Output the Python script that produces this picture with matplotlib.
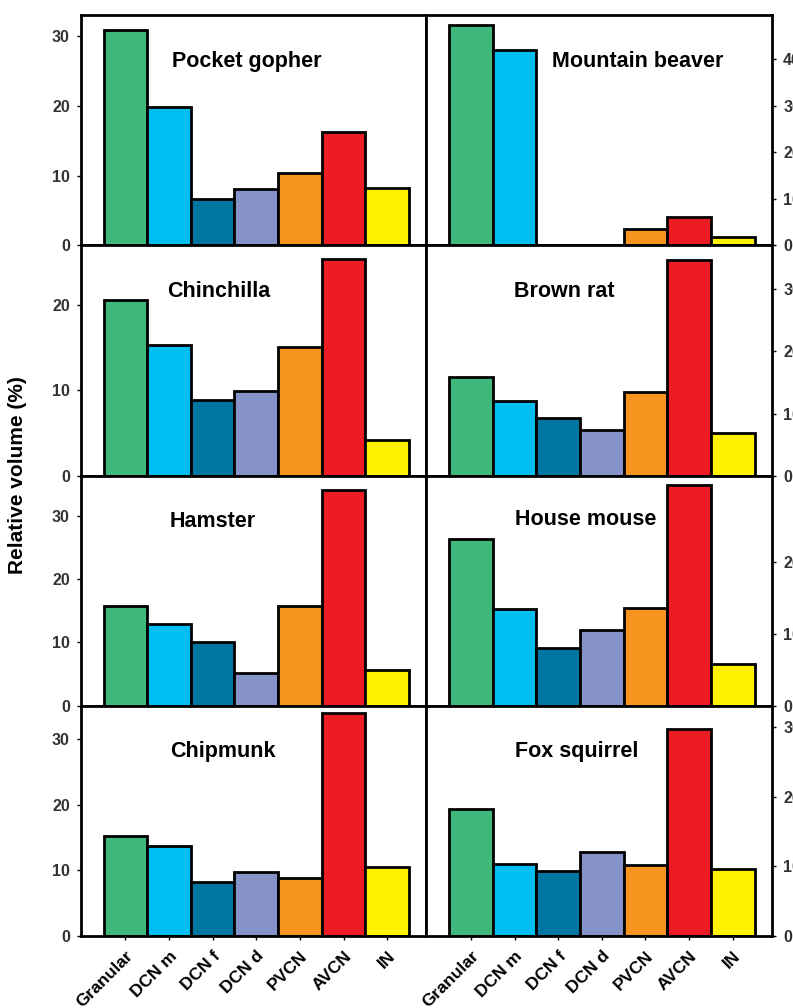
import matplotlib.pyplot as plt

plt.rcParams['font.family'] = ['Liberation Sans', 'DejaVu Sans']

categories = ["Granular", "DCN m", "DCN f", "DCN d", "PVCN", "AVCN", "IN"]
colors = ["#3fb87b", "#00bff0", "#0077a2", "#8593c9", "#f7941e", "#ed1c24", "#fff200"]

species = ["Pocket gopher", "Mountain beaver", "Chinchilla", "Brown rat",
           "Hamster", "House mouse", "Chipmunk", "Fox squirrel"]

pocket_gopher = [30.9, 19.9, 6.7, 8.1, 10.3, 16.3, 8.2]
mountain_beaver = [47.3, 42.1, 0, 0, 3.5, 6.1, 1.9]
chinchilla = [20.6, 15.3, 8.9, 9.9, 15.1, 25.4, 4.2]
brown_rat = [15.9, 12.0, 9.2, 7.4, 13.5, 34.8, 6.8]
hamster = [15.8, 12.9, 10.0, 5.2, 15.8, 34.0, 5.6]
house_mouse = [23.2, 13.5, 8.0, 10.6, 13.7, 30.8, 5.8]
chipmunk = [15.3, 13.8, 8.2, 9.7, 8.8, 34.0, 10.5]
fox_squirrel = [18.2, 10.4, 9.3, 12.1, 10.2, 29.8, 9.7]

values = [pocket_gopher, mountain_beaver, chinchilla, brown_rat,
          hamster, house_mouse, chipmunk, fox_squirrel]

ymax = [33, 49.5, 27, 37.1, 36.3, 32.1, 35.1, 33.1]
yticks = [[0, 10, 20, 30], [0, 10, 20, 30, 40], [0, 10, 20], [0, 10, 20, 30],
          [0, 10, 20, 30], [0, 10, 20], [0, 10, 20, 30], [0, 10, 20, 30]]
# title position in axes coords
title_pos = [(0.48, 0.80), (0.61, 0.80), (0.40, 0.80), (0.40, 0.80),
             (0.38, 0.80), (0.46, 0.81), (0.41, 0.80), (0.435, 0.80)]

fig, axes = plt.subplots(4, 2, figsize=(7.93, 10.08), dpi=100,
                         gridspec_kw=dict(hspace=0, wspace=0))
fig.subplots_adjust(left=0.102, right=0.9735, top=0.985, bottom=0.0714)

x = list(range(len(categories)))
for i, ax in enumerate(axes.flat):
    ax.bar(x, values[i], width=1.0, color=colors, edgecolor='black', linewidth=2)
    ax.set_xlim(-1.02, 6.9)
    ax.set_ylim(0, ymax[i])
    ax.set_yticks(yticks[i])
    for s in ax.spines.values():
        s.set_linewidth(2)
    ax.text(*title_pos[i], species[i], transform=ax.transAxes, ha='center',
            va='center', fontsize=15.5, fontweight='bold')
    ax.tick_params(axis='y', length=3, width=1, labelsize=11.5, labelcolor='#333333', pad=5)
    if i % 2 == 1:
        ax.yaxis.tick_right()
    ax.set_xticks(x)
    if i >= 6:
        ax.set_xticklabels(categories, rotation=45, ha='right', va='top',
                           rotation_mode='anchor', fontsize=12.5, fontweight='bold')
        ax.tick_params(axis='x', length=3, width=1, pad=6)
    else:
        ax.tick_params(axis='x', length=0, labelbottom=False)
    for lab in ax.get_yticklabels():
        lab.set_fontweight('bold')

fig.text(0.022, 0.529, "Relative volume (%)", rotation=90, ha='center', va='center',
         fontsize=15, fontweight='bold')

fig.savefig("out.png", dpi=100)
